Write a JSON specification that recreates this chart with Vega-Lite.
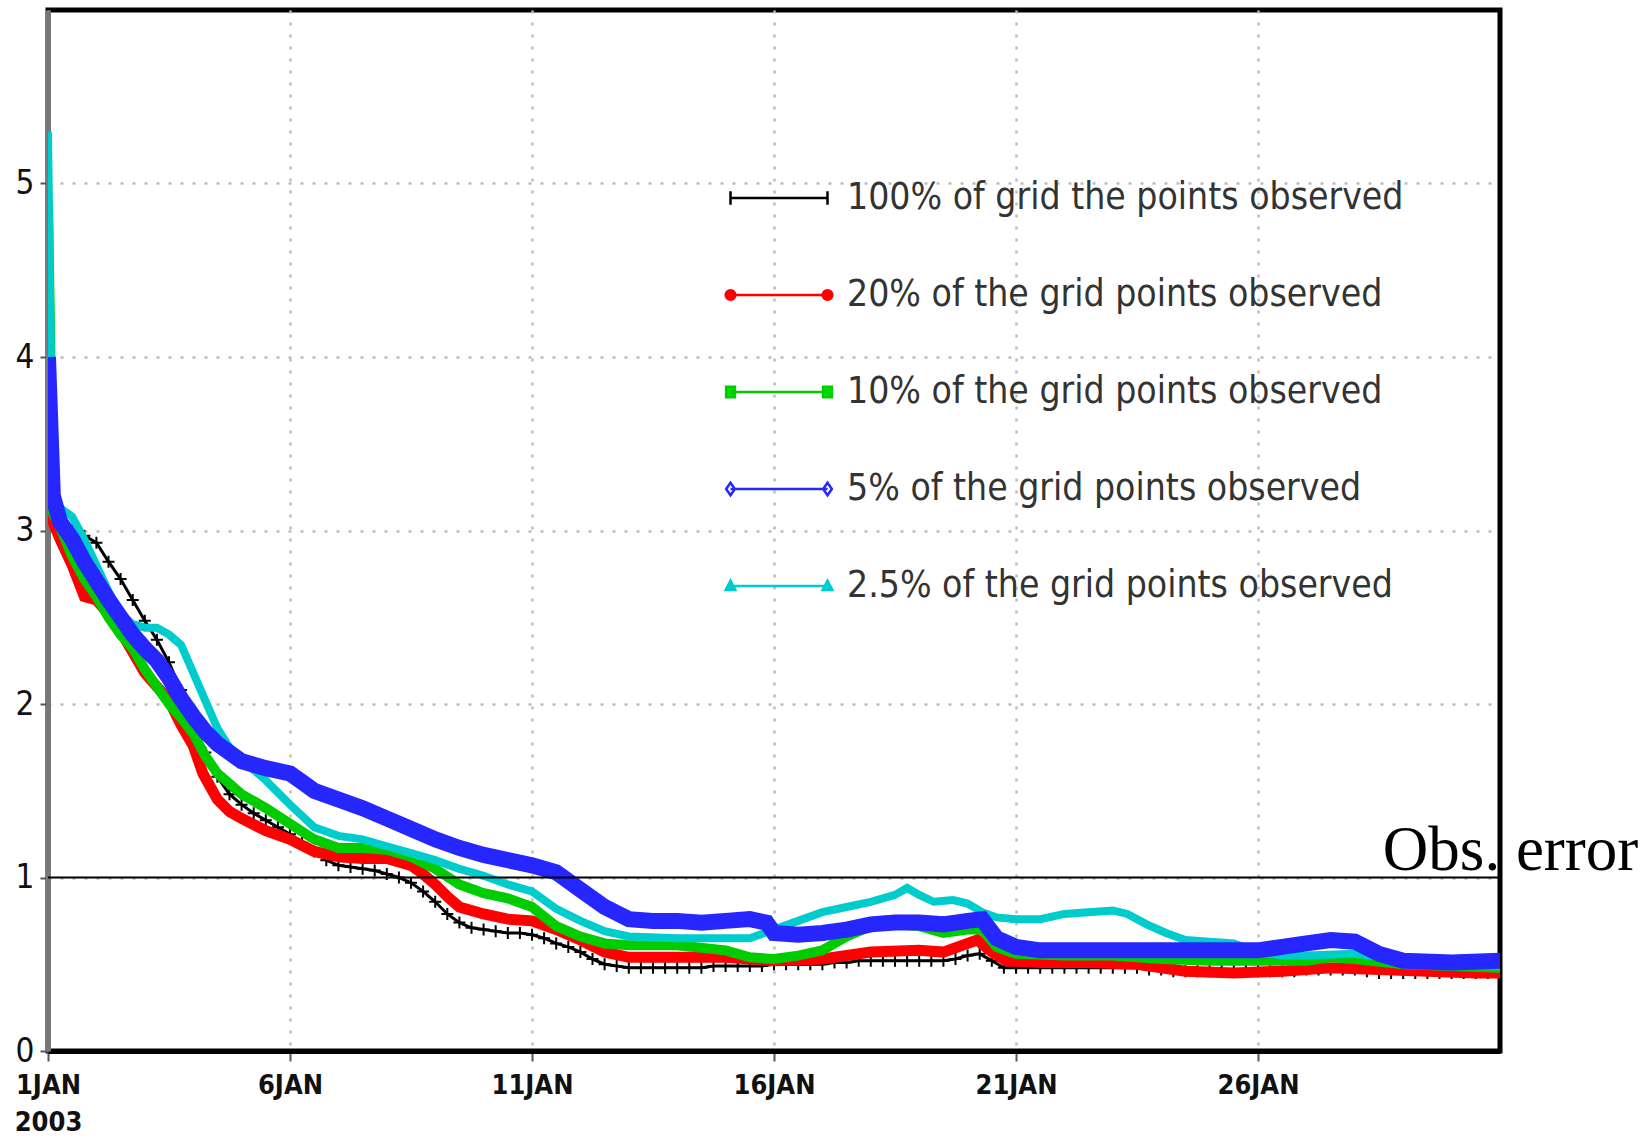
{
  "$schema": "https://vega.github.io/schema/vega-lite/v6.json",
  "width": 1452,
  "height": 1041,
  "autosize": {"type": "none"},
  "padding": {"left": 48, "top": 10, "right": 148, "bottom": 97},
  "background": "white",
  "datasets": {
    "b": [
      {"d":0,"v":3.6},{"d":0.1,"v":3.1},{"d":0.25,"v":3.02},{"d":0.5,"v":3.0},{"d":0.75,"v":2.97},{"d":1,"v":2.93},{"d":1.25,"v":2.82},{"d":1.5,"v":2.72},{"d":1.75,"v":2.6},{"d":2,"v":2.48},{"d":2.25,"v":2.37},{"d":2.5,"v":2.24},{"d":2.75,"v":2.08},{"d":3,"v":1.9},{"d":3.25,"v":1.72},{"d":3.5,"v":1.58},{"d":3.75,"v":1.48},{"d":4,"v":1.42},{"d":4.25,"v":1.37},{"d":4.5,"v":1.33},{"d":4.75,"v":1.29},{"d":5,"v":1.25},{"d":5.25,"v":1.2},{"d":5.5,"v":1.15},{"d":5.75,"v":1.1},{"d":6,"v":1.07},{"d":6.25,"v":1.06},{"d":6.5,"v":1.05},{"d":6.75,"v":1.04},{"d":7,"v":1.02},{"d":7.25,"v":1.0},{"d":7.5,"v":0.97},{"d":7.75,"v":0.92},{"d":8,"v":0.86},{"d":8.25,"v":0.79},{"d":8.5,"v":0.74},{"d":8.75,"v":0.71},{"d":9,"v":0.7},{"d":9.25,"v":0.69},{"d":9.5,"v":0.68},{"d":9.75,"v":0.68},{"d":10,"v":0.67},{"d":10.25,"v":0.65},{"d":10.5,"v":0.62},{"d":10.75,"v":0.6},{"d":11,"v":0.57},{"d":11.25,"v":0.53},{"d":11.5,"v":0.5},{"d":11.75,"v":0.49},{"d":12,"v":0.48},{"d":12.25,"v":0.48},{"d":12.5,"v":0.48},{"d":12.75,"v":0.48},{"d":13,"v":0.48},{"d":13.25,"v":0.48},{"d":13.5,"v":0.48},{"d":13.75,"v":0.49},{"d":14,"v":0.49},{"d":14.25,"v":0.49},{"d":14.5,"v":0.49},{"d":14.75,"v":0.49},{"d":15,"v":0.5},{"d":15.25,"v":0.5},{"d":15.5,"v":0.5},{"d":15.75,"v":0.5},{"d":16,"v":0.5},{"d":16.25,"v":0.51},{"d":16.5,"v":0.51},{"d":16.75,"v":0.52},{"d":17,"v":0.52},{"d":17.25,"v":0.52},{"d":17.5,"v":0.52},{"d":17.75,"v":0.52},{"d":18,"v":0.52},{"d":18.25,"v":0.52},{"d":18.5,"v":0.52},{"d":18.75,"v":0.53},{"d":19,"v":0.55},{"d":19.25,"v":0.56},{"d":19.5,"v":0.52},{"d":19.75,"v":0.48},{"d":20,"v":0.48},{"d":20.25,"v":0.48},{"d":20.5,"v":0.48},{"d":20.75,"v":0.48},{"d":21,"v":0.48},{"d":21.25,"v":0.48},{"d":21.5,"v":0.48},{"d":21.75,"v":0.48},{"d":22,"v":0.48},{"d":22.25,"v":0.48},{"d":22.5,"v":0.48},{"d":22.75,"v":0.47},{"d":23,"v":0.47},{"d":23.25,"v":0.46},{"d":23.5,"v":0.46},{"d":23.75,"v":0.46},{"d":24,"v":0.46},{"d":24.25,"v":0.46},{"d":24.5,"v":0.46},{"d":24.75,"v":0.46},{"d":25,"v":0.46},{"d":25.25,"v":0.46},{"d":25.5,"v":0.46},{"d":25.75,"v":0.46},{"d":26,"v":0.47},{"d":26.25,"v":0.47},{"d":26.5,"v":0.47},{"d":26.75,"v":0.47},{"d":27,"v":0.47},{"d":27.25,"v":0.46},{"d":27.5,"v":0.45},{"d":27.75,"v":0.45},{"d":28,"v":0.45},{"d":28.25,"v":0.45},{"d":28.5,"v":0.45},{"d":28.75,"v":0.45},{"d":29,"v":0.45},{"d":29.25,"v":0.45},{"d":29.5,"v":0.45},{"d":29.75,"v":0.45},{"d":30,"v":0.45}
    ],
    "r": [
      {"d":0,"v":3.9},{"d":0.1,"v":3.05},{"d":0.25,"v":2.95},{"d":0.5,"v":2.8},{"d":0.75,"v":2.62},{"d":1,"v":2.6},{"d":1.25,"v":2.52},{"d":1.5,"v":2.42},{"d":1.75,"v":2.3},{"d":2,"v":2.18},{"d":2.25,"v":2.1},{"d":2.5,"v":2.02},{"d":2.75,"v":1.88},{"d":3,"v":1.76},{"d":3.2,"v":1.6},{"d":3.5,"v":1.45},{"d":3.75,"v":1.38},{"d":4,"v":1.34},{"d":4.5,"v":1.27},{"d":5,"v":1.22},{"d":5.5,"v":1.15},{"d":6,"v":1.12},{"d":6.5,"v":1.11},{"d":7,"v":1.11},{"d":7.5,"v":1.07},{"d":7.75,"v":1.02},{"d":8,"v":0.96},{"d":8.25,"v":0.89},{"d":8.5,"v":0.83},{"d":9,"v":0.79},{"d":9.5,"v":0.76},{"d":10,"v":0.75},{"d":10.5,"v":0.7},{"d":11,"v":0.64},{"d":11.5,"v":0.57},{"d":12,"v":0.54},{"d":13,"v":0.54},{"d":14,"v":0.54},{"d":15,"v":0.52},{"d":16,"v":0.53},{"d":17,"v":0.57},{"d":18,"v":0.58},{"d":18.5,"v":0.57},{"d":19,"v":0.62},{"d":19.2,"v":0.64},{"d":19.5,"v":0.57},{"d":19.8,"v":0.52},{"d":20.5,"v":0.51},{"d":21.5,"v":0.51},{"d":22.5,"v":0.5},{"d":23.5,"v":0.46},{"d":24.5,"v":0.45},{"d":25.5,"v":0.46},{"d":26.5,"v":0.48},{"d":27.5,"v":0.47},{"d":28.5,"v":0.46},{"d":29.5,"v":0.45},{"d":30,"v":0.45}
    ],
    "g": [
      {"d":0,"v":4.9},{"d":0.1,"v":3.1},{"d":0.25,"v":3.02},{"d":0.5,"v":2.85},{"d":0.75,"v":2.72},{"d":1,"v":2.62},{"d":1.25,"v":2.5},{"d":1.5,"v":2.4},{"d":1.75,"v":2.32},{"d":2,"v":2.2},{"d":2.25,"v":2.1},{"d":2.5,"v":2.0},{"d":2.75,"v":1.92},{"d":3,"v":1.83},{"d":3.25,"v":1.7},{"d":3.5,"v":1.6},{"d":3.75,"v":1.54},{"d":4,"v":1.48},{"d":4.5,"v":1.4},{"d":5,"v":1.31},{"d":5.5,"v":1.22},{"d":6,"v":1.17},{"d":6.5,"v":1.17},{"d":7,"v":1.16},{"d":7.5,"v":1.12},{"d":8,"v":1.05},{"d":8.5,"v":0.96},{"d":9,"v":0.91},{"d":9.5,"v":0.88},{"d":10,"v":0.83},{"d":10.5,"v":0.72},{"d":11,"v":0.66},{"d":11.5,"v":0.62},{"d":12,"v":0.61},{"d":13,"v":0.61},{"d":14,"v":0.58},{"d":14.5,"v":0.54},{"d":15,"v":0.53},{"d":15.5,"v":0.55},{"d":16,"v":0.58},{"d":16.5,"v":0.66},{"d":17,"v":0.72},{"d":17.5,"v":0.73},{"d":18,"v":0.72},{"d":18.5,"v":0.68},{"d":19,"v":0.7},{"d":19.3,"v":0.7},{"d":19.6,"v":0.6},{"d":20,"v":0.56},{"d":21,"v":0.55},{"d":22,"v":0.55},{"d":23,"v":0.53},{"d":24,"v":0.52},{"d":25,"v":0.52},{"d":26,"v":0.52},{"d":26.5,"v":0.54},{"d":27,"v":0.53},{"d":28,"v":0.5},{"d":29,"v":0.49},{"d":30,"v":0.48}
    ],
    "c": [
      {"d":0,"v":5.3},{"d":0.08,"v":3.5},{"d":0.15,"v":3.15},{"d":0.5,"v":3.08},{"d":0.75,"v":2.95},{"d":1,"v":2.8},{"d":1.25,"v":2.65},{"d":1.5,"v":2.52},{"d":1.75,"v":2.46},{"d":2,"v":2.44},{"d":2.25,"v":2.44},{"d":2.5,"v":2.4},{"d":2.75,"v":2.34},{"d":3,"v":2.18},{"d":3.25,"v":2.02},{"d":3.5,"v":1.86},{"d":3.75,"v":1.75},{"d":4,"v":1.68},{"d":4.5,"v":1.56},{"d":5,"v":1.42},{"d":5.5,"v":1.29},{"d":6,"v":1.24},{"d":6.5,"v":1.22},{"d":7,"v":1.18},{"d":7.5,"v":1.14},{"d":8,"v":1.1},{"d":8.5,"v":1.05},{"d":9,"v":1.01},{"d":9.5,"v":0.96},{"d":10,"v":0.92},{"d":10.5,"v":0.82},{"d":11,"v":0.75},{"d":11.5,"v":0.69},{"d":12,"v":0.66},{"d":13,"v":0.65},{"d":14,"v":0.65},{"d":14.5,"v":0.65},{"d":15,"v":0.7},{"d":15.5,"v":0.75},{"d":16,"v":0.8},{"d":16.5,"v":0.83},{"d":17,"v":0.86},{"d":17.5,"v":0.9},{"d":17.75,"v":0.94},{"d":18,"v":0.9},{"d":18.3,"v":0.86},{"d":18.7,"v":0.87},{"d":19,"v":0.85},{"d":19.3,"v":0.8},{"d":19.6,"v":0.77},{"d":20,"v":0.76},{"d":20.5,"v":0.76},{"d":21,"v":0.79},{"d":21.5,"v":0.8},{"d":22,"v":0.81},{"d":22.3,"v":0.79},{"d":22.7,"v":0.73},{"d":23.1,"v":0.68},{"d":23.5,"v":0.64},{"d":24,"v":0.63},{"d":24.5,"v":0.62},{"d":25,"v":0.57},{"d":25.5,"v":0.55},{"d":26,"v":0.55},{"d":27,"v":0.56},{"d":28,"v":0.53},{"d":29,"v":0.5},{"d":30,"v":0.49}
    ],
    "u": [
      {"d":0,"v":4.0},{"d":0.1,"v":3.2},{"d":0.25,"v":3.05},{"d":0.5,"v":2.95},{"d":0.75,"v":2.82},{"d":1,"v":2.71},{"d":1.25,"v":2.6},{"d":1.5,"v":2.5},{"d":1.75,"v":2.4},{"d":2,"v":2.32},{"d":2.25,"v":2.25},{"d":2.5,"v":2.15},{"d":2.75,"v":2.03},{"d":3,"v":1.93},{"d":3.25,"v":1.84},{"d":3.5,"v":1.77},{"d":3.75,"v":1.72},{"d":4,"v":1.67},{"d":4.5,"v":1.63},{"d":5,"v":1.6},{"d":5.25,"v":1.55},{"d":5.5,"v":1.5},{"d":6,"v":1.45},{"d":6.5,"v":1.4},{"d":7,"v":1.34},{"d":7.5,"v":1.28},{"d":8,"v":1.22},{"d":8.5,"v":1.17},{"d":9,"v":1.13},{"d":9.5,"v":1.1},{"d":10,"v":1.07},{"d":10.5,"v":1.03},{"d":11,"v":0.93},{"d":11.5,"v":0.83},{"d":12,"v":0.76},{"d":12.5,"v":0.75},{"d":13,"v":0.75},{"d":13.5,"v":0.74},{"d":14,"v":0.75},{"d":14.5,"v":0.76},{"d":14.85,"v":0.74},{"d":15,"v":0.68},{"d":15.5,"v":0.67},{"d":16,"v":0.68},{"d":16.5,"v":0.7},{"d":17,"v":0.73},{"d":17.5,"v":0.74},{"d":18,"v":0.74},{"d":18.5,"v":0.73},{"d":19,"v":0.75},{"d":19.3,"v":0.76},{"d":19.6,"v":0.65},{"d":20,"v":0.6},{"d":20.5,"v":0.58},{"d":21,"v":0.58},{"d":22,"v":0.58},{"d":23,"v":0.58},{"d":24,"v":0.58},{"d":25,"v":0.58},{"d":25.5,"v":0.6},{"d":26,"v":0.62},{"d":26.5,"v":0.64},{"d":27,"v":0.63},{"d":27.5,"v":0.56},{"d":28,"v":0.52},{"d":29,"v":0.51},{"d":30,"v":0.52}
    ],
    "ref": [{"obs": 1, "label": "Obs. error"}]
  },
  "layer": [
    {
      "data": {"name": "b"},
      "mark": {"type": "line", "strokeWidth": 3, "clip": true},
      "encoding": {
        "x": {"field": "d", "type": "quantitative", "title": null,
              "scale": {"domain": [0, 30], "nice": false, "zero": false},
              "axis": {"values": [0, 5, 10, 15, 20, 25],
                       "labelExpr": "datum.value == 0 ? ['1JAN', '2003'] : (datum.value + 1) + 'JAN'"}},
        "y": {"field": "v", "type": "quantitative", "title": null,
              "scale": {"domain": [0, 6], "nice": false},
              "axis": {"values": [0, 1, 2, 3, 4, 5], "format": "d"}},
        "color": {"datum": "100% of grid the points observed",
          "scale": {"domain": ["100% of grid the points observed", "20% of the grid points observed", "10% of the grid points observed", "5% of the grid points observed", "2.5% of the grid points observed"],
                    "range": ["#000000", "#ff0000", "#00cc00", "#2626ff", "#00cccc"]},
          "legend": {
            "orient": "none", "legendX": 681, "legendY": 138, "title": null, "direction": "vertical",
            "symbolSize": 9409, "symbolStrokeWidth": 2.5, "symbolType": "M-1,0H1",
            "labelFont": "DejaVu Sans Condensed, Liberation Sans, sans-serif",
            "labelFontSize": 37, "labelColor": "#333333", "labelOffset": 18, "labelLimit": 0,
            "rowPadding": 29, "padding": 0,
            "encode": {"symbols": {"update": {
              "shape": {"signal": "['M-1,0H1M-1,-0.14V0.14M1,-0.14V0.14', 'M-1,0H1M-1.1,0A0.1,0.1,0,1,0,-0.9,0A0.1,0.1,0,1,0,-1.1,0ZM0.9,0A0.1,0.1,0,1,0,1.1,0A0.1,0.1,0,1,0,0.9,0Z', 'M-1,0H1M-1.09,-0.11H-0.91V0.11H-1.09ZM0.91,-0.11H1.09V0.11H0.91Z', 'M-1,0H1M-1,-0.13L-0.91,0L-1,0.13L-1.09,0ZM1,-0.13L1.09,0L1,0.13L0.91,0Z', 'M-1,0H1M-1,-0.11L-0.9,0.08H-1.1ZM1,-0.11L1.1,0.08H0.9Z'][datum.index]"},
              "fill": {"signal": "['transparent', '#ff0000', '#00dd00', '#ffffff', '#00cccc'][datum.index]"},
              "opacity": {"value": 1}
            }}}
          }}
      }
    },
    {
      "data": {"name": "b"},
      "mark": {"type": "point", "shape": "M-1,0H1M0,-1V1", "size": 144, "filled": false, "strokeWidth": 2, "opacity": 1, "clip": true},
      "encoding": {
        "x": {"field": "d", "type": "quantitative", "title": null},
        "y": {"field": "v", "type": "quantitative", "title": null},
        "color": {"datum": "100% of grid the points observed"}
      }
    },
    {
      "data": {"name": "r"},
      "mark": {"type": "line", "strokeWidth": 11, "clip": true},
      "encoding": {
        "x": {"field": "d", "type": "quantitative", "title": null},
        "y": {"field": "v", "type": "quantitative", "title": null},
        "color": {"datum": "20% of the grid points observed"}
      }
    },
    {
      "data": {"name": "g"},
      "mark": {"type": "line", "strokeWidth": 10, "clip": true},
      "encoding": {
        "x": {"field": "d", "type": "quantitative", "title": null},
        "y": {"field": "v", "type": "quantitative", "title": null},
        "color": {"datum": "10% of the grid points observed"}
      }
    },
    {
      "data": {"name": "c"},
      "mark": {"type": "line", "strokeWidth": 8, "clip": true},
      "encoding": {
        "x": {"field": "d", "type": "quantitative", "title": null},
        "y": {"field": "v", "type": "quantitative", "title": null},
        "color": {"datum": "2.5% of the grid points observed"}
      }
    },
    {
      "data": {"name": "u"},
      "mark": {"type": "line", "strokeWidth": 16, "clip": true},
      "encoding": {
        "x": {"field": "d", "type": "quantitative", "title": null},
        "y": {"field": "v", "type": "quantitative", "title": null},
        "color": {"datum": "5% of the grid points observed"}
      }
    },
    {
      "data": {"name": "ref"},
      "mark": {"type": "rule", "color": "#000000", "strokeWidth": 2},
      "encoding": {
        "y": {"field": "obs", "type": "quantitative", "title": null}
      }
    },
    {
      "data": {"name": "ref"},
      "mark": {"type": "text", "font": "Liberation Serif, Times New Roman, serif", "fontSize": 63, "align": "left", "baseline": "alphabetic", "dy": -8, "color": "#000000"},
      "encoding": {
        "x": {"datum": 27.58},
        "y": {"field": "obs", "type": "quantitative", "title": null},
        "text": {"field": "label"}
      }
    }
  ],
  "config": {
    "view": {"stroke": "#000000", "strokeWidth": 5},
    "axis": {
      "grid": true, "gridColor": "#bdbdbd", "gridDash": [3, 9], "gridWidth": 2.5,
      "labelFont": "DejaVu Sans Condensed, Liberation Sans, sans-serif",
      "labelColor": "#111111", "tickColor": "#555555", "tickWidth": 2,
      "domainColor": "#000000", "domainWidth": 5
    },
    "axisX": {"labelFontSize": 27, "labelFontWeight": "bold", "tickSize": 10, "labelPadding": 11,
              "labelFlush": false, "labelOverlap": false, "labelLineHeight": 37, "labelBound": false},
    "axisY": {"labelFontSize": 33, "tickSize": 8, "labelPadding": 6, "domainColor": "#777777"}
  }
}
